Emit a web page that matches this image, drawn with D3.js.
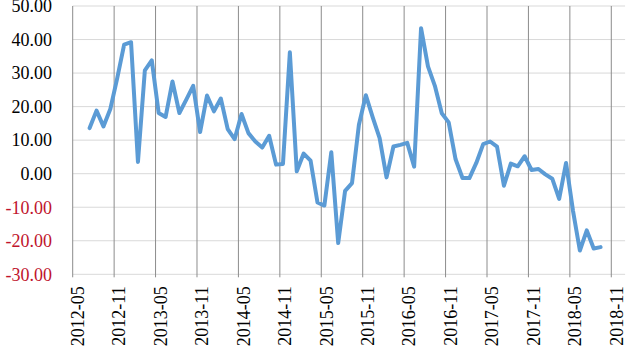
<!DOCTYPE html>
<html>
<head>
<meta charset="utf-8">
<script src="https://cdn.jsdelivr.net/npm/d3@7"></script>
<style>
  body { margin: 0; background: #fff; }
  svg text { font-family: "Liberation Serif", "Times New Roman", "DejaVu Serif", serif; }
</style>
</head>
<body>
<div id="chart-area"></div>
<script>
var total_width = 632;
var total_height = 352;

// monthly values, 2012-07 .. 2018-09
var months = ["2012-07","2012-08","2012-09","2012-10","2012-11","2012-12",
  "2013-01","2013-02","2013-03","2013-04","2013-05","2013-06","2013-07","2013-08","2013-09","2013-10","2013-11","2013-12",
  "2014-01","2014-02","2014-03","2014-04","2014-05","2014-06","2014-07","2014-08","2014-09","2014-10","2014-11","2014-12",
  "2015-01","2015-02","2015-03","2015-04","2015-05","2015-06","2015-07","2015-08","2015-09","2015-10","2015-11","2015-12",
  "2016-01","2016-02","2016-03","2016-04","2016-05","2016-06","2016-07","2016-08","2016-09","2016-10","2016-11","2016-12",
  "2017-01","2017-02","2017-03","2017-04","2017-05","2017-06","2017-07","2017-08","2017-09","2017-10","2017-11","2017-12",
  "2018-01","2018-02","2018-03","2018-04","2018-05","2018-06","2018-07","2018-08","2018-09"];
var values = [13.6, 18.8, 14.1, 19.3, 28.5, 38.5,
  39.2, 3.5, 30.8, 33.8, 18.1, 16.9, 27.5, 18.1, 22.1, 26.2, 12.4, 23.3,
  18.6, 22.4, 13.3, 10.3, 17.8, 12.1, 9.6, 7.8, 11.3, 2.7, 2.9, 36.2,
  0.7, 6.0, 3.9, -8.6, -9.5, 6.4, -20.7, -5.1, -2.8, 14.6, 23.4, 16.8,
  10.6, -1.1, 8.1, 8.6, 9.2, 2.1, 43.4, 32.0, 26.2, 18.0, 15.3, 4.3,
  -1.3, -1.3, 3.2, 8.8, 9.6, 8.1, -3.6, 3.0, 2.2, 5.2, 1.1, 1.4,
  -0.2, -1.5, -7.5, 3.2, -11.0, -22.9, -16.9, -22.3, -21.9];
var tick_labels = ["2012-05","2012-11","2013-05","2013-11","2014-05","2014-11","2015-05",
  "2015-11","2016-05","2016-11","2017-05","2017-11","2018-05","2018-11"];
var y_ticks = [50, 40, 30, 20, 10, 0, -10, -20, -30];

var start_month = 2012 * 12 + 4; // 2012-05
function month_index(s){
  var p = s.split("-");
  return (+p[0]) * 12 + (+p[1] - 1) - start_month;
}

var svg = d3.select('#chart-area').append('svg')
            .attr("width", total_width)
            .attr("height", total_height);

var x = d3.scaleLinear()
          .domain([0, 80])
          .range([72.7, 625.1]);

var y = d3.scaleLinear()
          .domain([-30, 50])
          .range([274.3, 6]);

// horizontal gridlines
svg.append("g").selectAll("line")
   .data(y_ticks)
   .enter().append("line")
   .attr("x1", x(0))
   .attr("x2", x(80))
   .attr("y1", d => y(d))
   .attr("y2", d => y(d))
   .style("stroke", "#d9d9d9")
   .style("stroke-width", 1);

// vertical gridlines with ticks
svg.append("g").selectAll("line")
   .data(tick_labels)
   .enter().append("line")
   .attr("x1", d => x(month_index(d)))
   .attr("x2", d => x(month_index(d)))
   .attr("y1", y(50))
   .attr("y2", y(-30) + 3)
   .style("stroke", "#8c8c8c")
   .style("stroke-width", 1);

// y labels
svg.append("g").selectAll("text")
   .data(y_ticks)
   .enter().append("text")
   .attr("x", 52)
   .attr("y", d => y(d))
   .attr("dy", "0.35em")
   .style("font-size", "18px")
   .style("text-anchor", "end")
   .style("fill", d => d < 0 ? "#c0142c" : "#000")
   .text(d => d.toFixed(2));

// x labels, rotated
svg.append("g").selectAll("text")
   .data(tick_labels)
   .enter().append("text")
   .attr("transform", d => "translate(" + (x(month_index(d)) + 5) + "," + (y(-30) + 12) + ") rotate(-90)")
   .attr("dy", "0.35em")
   .style("font-size", "18px")
   .style("text-anchor", "end")
   .style("fill", "#000")
   .text(d => d);

var line = d3.line()
   .x((d, i) => x(month_index(months[i]) + 0.45))
   .y(d => y(d));

svg.append("path")
   .datum(values)
   .attr("d", line)
   .style("fill", "none")
   .style("stroke", "#5b9bd5")
   .style("stroke-width", 4)
   .style("stroke-linejoin", "round")
   .style("stroke-linecap", "round");
</script>
</body>
</html>
